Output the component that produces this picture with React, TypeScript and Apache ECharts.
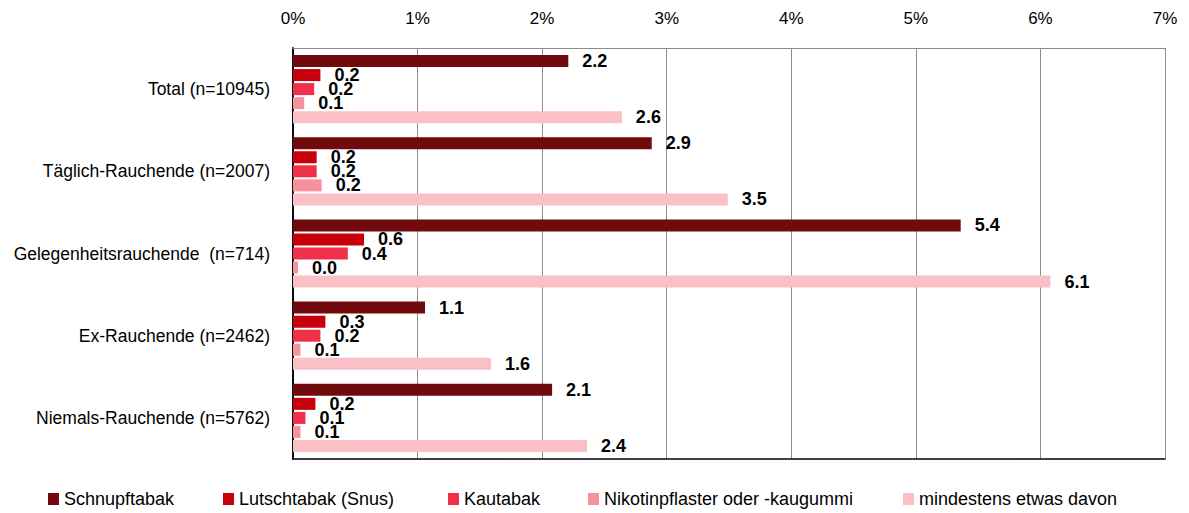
import React, { useEffect, useRef } from "react";
import * as echarts from "echarts";

const categories = [
  "Total (n=10945)",
  "Täglich-Rauchende (n=2007)",
  "Gelegenheitsrauchende  (n=714)",
  "Ex-Rauchende (n=2462)",
  "Niemals-Rauchende (n=5762)",
];
const seriesNames = [
  "Schnupftabak",
  "Lutschtabak (Snus)",
  "Kautabak",
  "Nikotinpflaster oder -kaugummi",
  "mindestens etwas davon",
];
const schnupftabak = [2.21, 2.88, 5.36, 1.06, 2.08];
const lutschtabak = [0.22, 0.19, 0.57, 0.26, 0.18];
const kautabak = [0.17, 0.19, 0.44, 0.22, 0.1];
const nikotin = [0.09, 0.23, 0.04, 0.06, 0.06];
const mindestens = [2.64, 3.49, 6.08, 1.59, 2.36];
const colors = ["#700A0D", "#C8000C", "#F03048", "#F7929D", "#FBC0C6"];
const legendLeft = [48, 223, 448, 588, 903];

const FONT = "'Liberation Sans', Arial, sans-serif";

export default function App() {
  const ref = useRef<HTMLDivElement>(null);
  useEffect(() => {
    if (!ref.current) return;
    const chart = echarts.init(ref.current, undefined, { renderer: "svg" });
    const data = [schnupftabak, lutschtabak, kautabak, nikotin, mindestens];
    const option: any = {
      animation: false,
      textStyle: { fontFamily: FONT },
      grid: { left: 293, right: 24, top: 48, bottom: 54, outerBoundsMode: "none", containLabel: false },
      legend: seriesNames.map((n, i) => ({
        data: [n],
        left: legendLeft[i],
        top: 490,
        icon: "rect",
        itemWidth: 11,
        itemHeight: 12,
        itemGap: 0,
        padding: 0,
        textStyle: { fontFamily: FONT, fontSize: 18, color: "#000" },
        selectedMode: false,
      })),
      xAxis: [
        {
          type: "value",
          position: "top",
          min: 0,
          max: 7,
          interval: 1,
          axisLine: { show: true, lineStyle: { color: "#8c8c8c", width: 1 } },
          axisTick: { show: false },
          splitLine: { show: true, lineStyle: { color: "#8c8c8c", width: 1 } },
          axisLabel: {
            formatter: (v: number) => v + "%",
            fontFamily: FONT,
            fontSize: 17,
            color: "#000",
            margin: 21,
          },
        },
        {
          type: "value",
          position: "bottom",
          min: 0,
          max: 7,
          interval: 1,
          axisLine: { show: true, lineStyle: { color: "#000", width: 1.5 } },
          axisTick: { show: false },
          splitLine: { show: false },
          axisLabel: { show: false },
        },
      ],
      yAxis: [
        {
          type: "category",
          data: categories,
          inverse: true,
          axisLine: { show: true, lineStyle: { color: "#000", width: 1.5 } },
          axisTick: { show: false },
          axisLabel: { fontFamily: FONT, fontSize: 17.5, color: "#000", margin: 23 },
        },
        {
          type: "category",
          data: categories,
          inverse: true,
          position: "right",
          axisLine: { show: true, lineStyle: { color: "#000", width: 1.5 } },
          axisTick: { show: false },
          axisLabel: { show: false },
        },
      ],
      series: seriesNames.map((n, i) => ({
        name: n,
        type: "bar",
        data: data[i],
        barWidth: 12,
        barGap: "17%",
        barCategoryGap: "17%",
        itemStyle: { color: colors[i] },
        label: {
          show: true,
          position: "right",
          distance: 14,
          formatter: (p: any) => Number(p.value).toFixed(1),
          fontFamily: FONT,
          fontSize: 18,
          fontWeight: "bold",
          color: "#000",
        },
      })),
    };
    chart.setOption(option);
    return () => chart.dispose();
  }, []);
  return <div ref={ref} style={{ width: 1189, height: 513, position: "absolute", left: 0, top: 0 }} />;
}
